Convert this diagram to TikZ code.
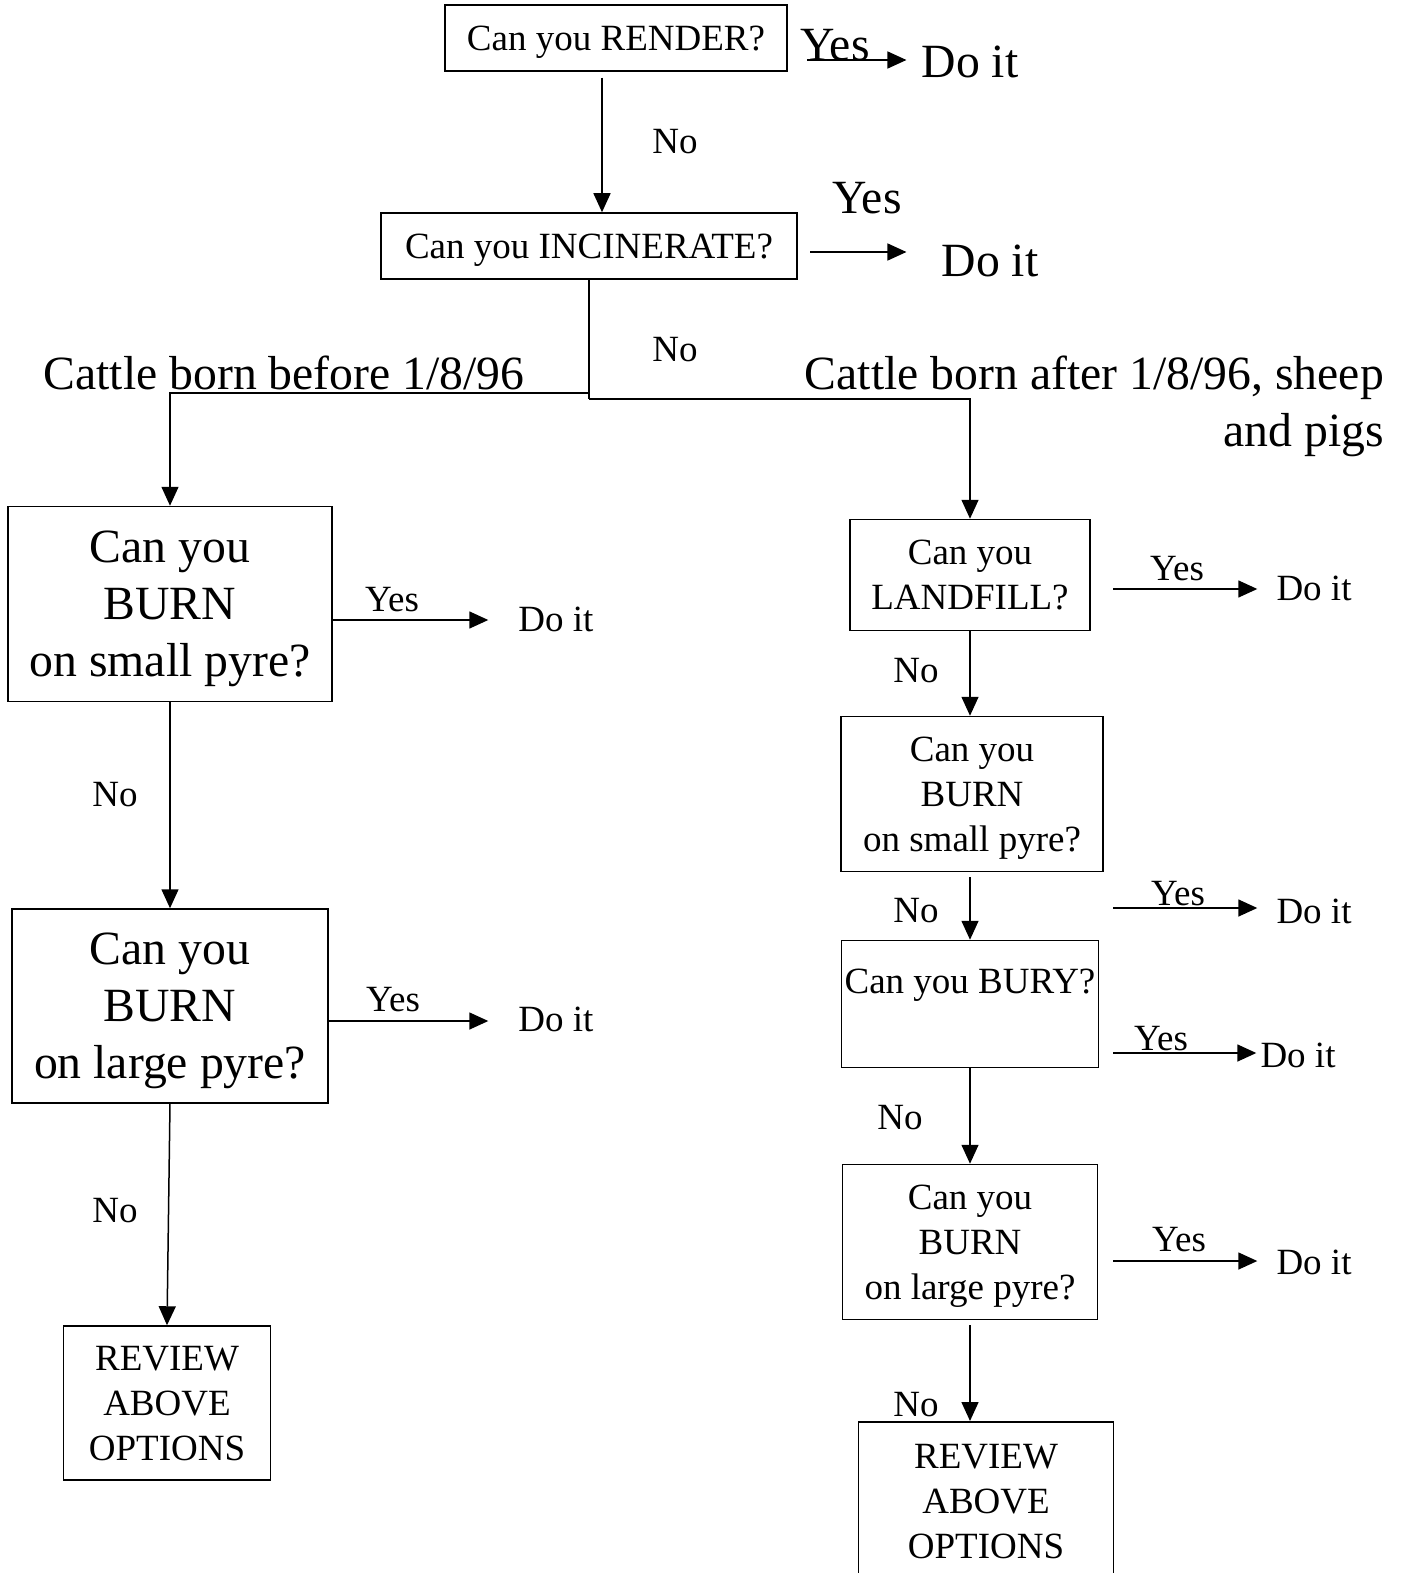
\documentclass[tikz,border=0pt]{standalone}
\usepackage{fontspec}
\setmainfont{Liberation Serif}
\usetikzlibrary{calc,arrows.meta}

\newcommand\fcsmall{\fontsize{37}{45}\selectfont}
\newcommand\fcbig{\fontsize{47.7}{57}\selectfont}

\tikzset{
  qbox/.style={draw, line width=1.5pt, inner sep=0pt, text depth=0pt, align=center, font=\fcsmall},
  flow/.style={line width=1.5pt, -{Triangle[length=19pt,width=17pt]}},
  wire/.style={line width=1.5pt},
  lbl/.style={inner sep=0pt, font=\fcsmall},
  biglbl/.style={inner sep=0pt, font=\fcbig},
}

\begin{document}
\begin{tikzpicture}[x=1pt,y=-1pt]
\useasboundingbox (0,0) rectangle (1402,1573);

% questions
\node[qbox, minimum width=342pt, minimum height=66pt] (render) at (616,38) {Can you RENDER?};
\node[qbox, minimum width=416pt, minimum height=66pt] (incin) at (589,246) {Can you INCINERATE?};

\node[qbox, font=\fcbig, minimum width=324pt, minimum height=195pt] (burnS) at (170,604) {Can you\\BURN\\on small pyre?};
\node[qbox, font=\fcbig, minimum width=316pt, minimum height=194pt] (burnL) at (170,1006) {Can you\\BURN\\on large pyre?};
\node[qbox, minimum width=207pt, minimum height=154pt] (reviewL) at (167,1403) {REVIEW\\ABOVE\\OPTIONS};

\node[qbox, minimum width=240pt, minimum height=111pt] (landfill) at (970,575) {Can you\\LANDFILL?};
\node[qbox, minimum width=262pt, minimum height=155pt] (burnSR) at (972,794) {Can you\\BURN\\on small pyre?};
\node[qbox, minimum width=257pt, minimum height=127pt] (bury) at (970,1004) {Can you BURY?\\ \mbox{}};
\node[qbox, minimum width=255pt, minimum height=155pt] (burnLR) at (970,1242) {Can you\\BURN\\on large pyre?};
\node[qbox, minimum width=255pt, minimum height=160pt, anchor=north] (reviewR) at (986,1421) {REVIEW\\ABOVE\\OPTIONS};

% branch texts
\node[biglbl] (cattleL) at (284,373) {Cattle born before 1/8/96};
\node[biglbl, align=right, anchor=north east] (cattleR) at (1384,356) {Cattle born after 1/8/96, sheep\\and pigs};

% answers
\node[biglbl] (yesR) at (835,45) {Yes};
\node[biglbl] (doitR) at (970,62) {Do it};
\node[lbl] (noR) at (675,142) {No};
\node[biglbl] (yesI) at (867,198) {Yes};
\node[biglbl] (doitI) at (990,261) {Do it};
\node[lbl] (noI) at (675,350) {No};

\node[lbl] (yesBS) at (392,600) {Yes};
\node[lbl] (doitBS) at (556,619) {Do it};
\node[lbl] (noBS) at (115,795) {No};
\node[lbl] (yesBL) at (393,1000) {Yes};
\node[lbl] (doitBL) at (556,1019) {Do it};
\node[lbl] (noBL) at (115,1211) {No};

\node[lbl] (yesLF) at (1177,569) {Yes};
\node[lbl] (doitLF) at (1314,588) {Do it};
\node[lbl] (noLF) at (916,671) {No};
\node[lbl] (yesSR) at (1178,894) {Yes};
\node[lbl] (doitSR) at (1314,911) {Do it};
\node[lbl] (noSR) at (916,911) {No};
\node[lbl] (yesBU) at (1161,1039) {Yes};
\node[lbl] (doitBU) at (1298,1055) {Do it};
\node[lbl] (noBU) at (900,1118) {No};
\node[lbl] (yesLR) at (1179,1240) {Yes};
\node[lbl] (doitLR) at (1314,1262) {Do it};
\node[lbl] (noLR) at (916,1405) {No};

% yes arrows
\coordinate (rY) at (807,60);
\coordinate (iY) at (810,252);
\coordinate (bsY) at ($(burnS.east)+(0,16)$);
\coordinate (blY) at ($(burnL.east)+(0,15)$);
\draw[flow, shorten >=15pt] (rY) -- (rY -| doitR.west);
\draw[flow, shorten >=35pt] (iY) -- (iY -| doitI.west);
\draw[flow, shorten >=30pt] (bsY) -- (bsY -| doitBS.west);
\draw[flow, shorten >=30pt] (blY) -- (blY -| doitBL.west);

\coordinate (lfY) at (1113,589);
\coordinate (srY) at (1113,908);
\coordinate (buY) at (1113,1053);
\coordinate (lrY) at (1113,1261);
\draw[flow, shorten >=19pt] (lfY) -- (lfY -| doitLF.west);
\draw[flow, shorten >=19pt] (srY) -- (srY -| doitSR.west);
\draw[flow, shorten >=4pt] (buY) -- (buY -| doitBU.west);
\draw[flow, shorten >=19pt] (lrY) -- (lrY -| doitLR.west);

% no arrows
\draw[flow] ([xshift=-14pt,yshift=-6pt]render.south) -- ([xshift=-14pt]render.south |- incin.north);
\coordinate (jR) at (589,399);
\coordinate (jL) at (589,393);
\draw[wire] (incin.south) -- (jR);
\draw[flow] (jR) -| (landfill.north);
\draw[flow] (jL) -| (burnS.north);

\draw[flow] (burnS.south) -- (burnL.north);
\draw[flow] (burnL.south) -- (reviewL.north);

\draw[flow] (landfill.south) -- (landfill.south |- burnSR.north);
\draw[flow, shorten <=5pt] (landfill.south |- burnSR.south) -- (landfill.south |- bury.north);
\draw[flow] (bury.south) -- (burnLR.north);
\draw[flow, shorten <=5pt] (burnLR.south) -- (burnLR.south |- reviewR.north);

\end{tikzpicture}
\end{document}
